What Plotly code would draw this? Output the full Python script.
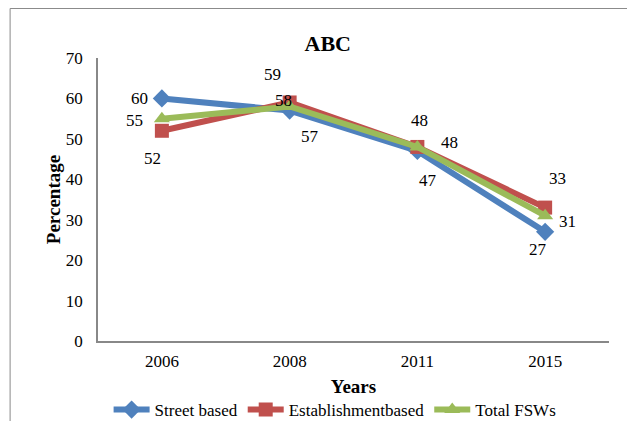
import plotly.graph_objects as go

years = ["2006", "2008", "2011", "2015"]
street = [60, 57, 47, 27]
establishment = [52, 59, 48, 33]
total = [55, 58, 48, 31]

series_names = ["Street based", "Establishmentbased", "Total FSWs"]
colors = ["#4F81BD", "#C0504D", "#9BBB59"]
symbols = ["diamond", "square", "triangle-up"]

# label offsets (px) per series per point
label_shifts = [
    [(-22, 0), (20, -26), (11, -30), (-7, -18)],
    [(-9, -28), (-17, 28), (2, 26), (12, 29)],
    [(-27, -2), (-6, 6), (32, 4), (22, -6)],
]

FONT = "Liberation Serif"
fig = go.Figure()
annotations = []
for name, vals, col, sym, shifts in zip(series_names, [street, establishment, total], colors, symbols, label_shifts):
    fig.add_trace(go.Scatter(
        x=years, y=vals, name=name, mode="lines+markers",
        line=dict(color=col, width=6),
        marker=dict(symbol=sym, size=14, color=col, line=dict(width=0)),
    ))
    for i, (yv, (dx, dy)) in enumerate(zip(vals, shifts)):
        annotations.append(dict(x=i, y=yv, xref="x", yref="y",
                                text="<span style='font-family:Liberation Serif'>%d</span>" % yv,
                                showarrow=False, xshift=dx, yshift=dy,
                                font=dict(family=FONT, size=17, color="#000")))

fig.update_layout(
    template="none",
    width=627, height=413,
    margin=dict(l=90, r=26, t=50, b=80, autoexpand=False),
    paper_bgcolor="white", plot_bgcolor="white",
    title=dict(text="<b>ABC</b>", x=0.51, xanchor="center", y=0.915, yanchor="middle",
               font=dict(family=FONT, size=22, color="#000")),
    font=dict(family=FONT, color="#000"),
    showlegend=True,
    legend=dict(orientation="h", x=0.464, xanchor="center", y=-0.244, yanchor="middle",
                font=dict(family=FONT, size=17), itemwidth=36, tracegroupgap=0,
                bgcolor="rgba(0,0,0,0)"),
    annotations=annotations,
    shapes=[dict(type="rect", xref="paper", yref="paper",
                 x0=-0.172, x1=1.2, y0=-0.5, y1=1.175,
                 line=dict(color="#888", width=1), layer="below")],
)
fig.update_xaxes(type="category", range=[-0.5, 3.5], showgrid=False, automargin=False,
                 showline=True, linecolor="#888", linewidth=1.5,
                 ticks="", tickfont=dict(family=FONT, size=17),
                 ticklabelstandoff=4,
                 title=dict(text="<b>Years</b>", font=dict(family=FONT, size=19), standoff=10))
fig.update_yaxes(range=[0, 70], dtick=10, showgrid=False, automargin=False,
                 showline=True, linecolor="#888", linewidth=1.5,
                 ticks="", tickfont=dict(family=FONT, size=17),
                 ticklabelstandoff=10, zeroline=False,
                 title=dict(text="<b>Percentage</b>", font=dict(family=FONT, size=19), standoff=0))

fig.write_html("out.html")
